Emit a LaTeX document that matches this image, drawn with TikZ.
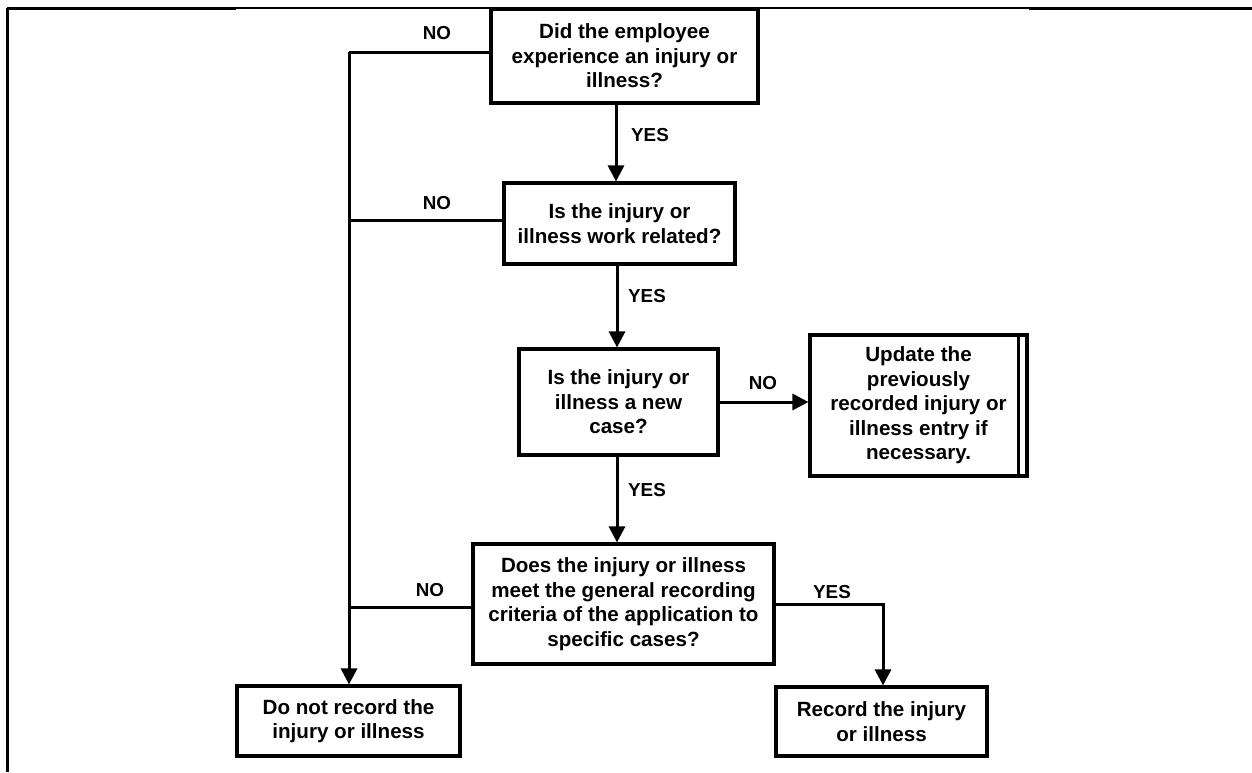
\documentclass[tikz,border=0pt]{standalone}
\usepackage{fontspec}
\setmainfont{Liberation Sans}
\usetikzlibrary{arrows.meta}
\begin{document}
\begin{tikzpicture}[x=1pt,y=-1pt,
  box/.style={draw, line width=3.1pt, align=center, inner sep=0pt,
    font=\fontsize{20.6}{24.5}\selectfont\bfseries},
  lab/.style={inner sep=0pt, font=\fontsize{18.8}{22}\selectfont\bfseries},
  conn/.style={line width=3pt},
  arr/.style={line width=3pt, -{Triangle[length=16pt,width=16pt]}},
  frame/.style={line width=2.2pt}]
\useasboundingbox (0,0) rectangle (1252,772);
% frame
\draw[frame, line width=3pt] (7,8) -- (236,8);
\draw[frame, line width=2pt] (236,8) -- (1029,8);
\draw[frame, line width=3pt] (1029,8) -- (1252,8);
\draw[frame] (7.5,8) -- (7.5,772);
% boxes
\node[box, minimum width=267pt, minimum height=94pt] (b1) at (624.5,56)
  {Did the employee\\experience an injury or\\illness?};
\node[box, minimum width=231pt, minimum height=81pt] (b2) at (619.5,223.5)
  {Is the injury or\\illness work related?};
\node[box, minimum width=199pt, minimum height=106pt] (b3) at (618.5,402)
  {Is the injury or\\illness a new\\case?};
\node[box, minimum width=217pt, minimum height=141pt] (up) at (918.5,405.5)
  {Update the\\previously\\recorded injury or\\illness entry if\\necessary.};
\draw[line width=3.1pt] ([xshift=-10pt]up.north east) -- ([xshift=-10pt]up.south east);
\node[box, minimum width=301pt, minimum height=120pt] (b4) at (623.5,604)
  {Does the injury or illness\\meet the general recording\\criteria of the application to\\specific cases?};
\node[box, minimum width=223pt, minimum height=70pt] (dn) at (348.5,721)
  {Do not record the\\injury or illness};
\node[box, minimum width=211pt, minimum height=69pt] (rc) at (881.5,721.5)
  {Record the injury\\or illness};
% helper coordinates
\coordinate (j1) at (349,52);
\coordinate (j2) at (349,220);
\coordinate (j3) at (349,607);
\coordinate (c1) at (616,0);
\coordinate (c2) at (617,0);
\coordinate (c3) at (883,0);
% NO branches
\draw[conn] (j1) -- (j1 -| b1.west);
\draw[conn] (j2) -- (j2 -| b2.west);
\draw[conn] (j3) -- (j3 -| b4.west);
\draw[arr] (j1) -- (j1 |- dn.north);
% YES chain
\draw[arr] (b1.south -| c1) -- (b2.north -| c1);
\draw[arr] (b2.south -| c2) -- (b3.north -| c2);
\draw[arr] (b3.south -| c2) -- (b4.north -| c2);
\draw[arr] (b3.east) -- (b3.east -| up.west);
\draw[arr] (b4.east) -| (rc.north -| c3);
% labels
\node[lab] (l1) at (437,33) {NO};
\node[lab] (l2) at (437,203) {NO};
\node[lab] (l3) at (430,590) {NO};
\node[lab] (l4) at (763,383) {NO};
\node[lab] (l5) at (650,135) {YES};
\node[lab] (l6) at (647,296) {YES};
\node[lab] (l7) at (647,490) {YES};
\node[lab] (l8) at (832,592) {YES};
\end{tikzpicture}
\end{document}
